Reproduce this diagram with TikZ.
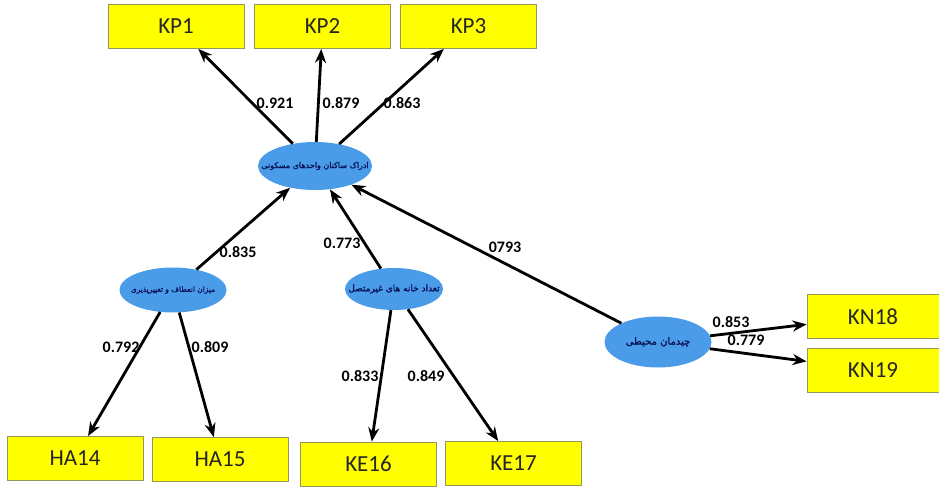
\documentclass[tikz,border=0pt]{standalone}
\usepackage{fontspec}
\setmainfont{Carlito}
\newfontfamily\farsifont[Script=Arabic,FakeBold=1.6]{DejaVu Sans}
\TeXXeTstate=1
\usetikzlibrary{shapes.geometric,arrows.meta}
\definecolor{boxyellow}{RGB}{255,255,0}
\definecolor{boxedge}{RGB}{150,150,90}
\definecolor{ovalblue}{RGB}{74,155,232}
\definecolor{ovaltext}{RGB}{10,20,90}
\newcommand\farsisize[1]{\farsifont\fontsize{#1}{#1}\selectfont}
\begin{document}
\begin{tikzpicture}[x=1pt,y=-1pt,
    item/.style={draw=boxedge, line width=0.8pt, fill=boxyellow, minimum height=44pt,
      inner sep=0pt, text=black!85, font=\fontsize{23}{25}\selectfont},
    factor/.style={ellipse, fill=ovalblue, inner sep=0pt},
    factortext/.style={inner sep=0pt, text=ovaltext},
    load/.style={-{Stealth[length=14pt,width=11pt]}, line width=2.8pt},
    coef/.style={inner sep=1pt, font=\bfseries\fontsize{16}{18}\selectfont}]
  % Frame of the picture
  \useasboundingbox (0,0) rectangle (939,487);

  % Indicator boxes
  \foreach \name/\x/\y/\w/\txt in {kp1/176/26.5/136/KP1, kp2/322.5/26.5/136/KP2,
      kp3/468.5/26.5/136/KP3, ha14/75/458.5/136/HA14, ha15/220/459.5/136/HA15,
      ke16/368.5/464/136/KE16, ke17/513.5/463.5/136/KE17,
      kn18/873/316.5/132/KN18, kn19/873/370/132/KN19} {
    \node[item, minimum width=\w pt] (\name) at (\x,\y) {\txt};
  }

  % Latent variables (label kept inside a fixed-size oval)
  \node[factor, minimum width=114pt, minimum height=48pt,
    label={[factortext, font=\farsisize{8}]center:\beginR ادراک ساکنان واحدهای مسکونی\endR}]
    (perception) at (315,166) {};
  \node[factor, minimum width=107pt, minimum height=45pt,
    label={[factortext, font=\farsisize{7.4}]center:\beginR میزان انعطاف و تغییرپذیری\endR}]
    (flexibility) at (173,290) {};
  \node[factor, minimum width=98pt, minimum height=42pt,
    label={[factortext, font=\farsisize{9}]center:\beginR تعداد خانه های غیرمتصل\endR}]
    (detached) at (394,289) {};
  \node[factor, minimum width=107pt, minimum height=51pt,
    label={[factortext, font=\farsisize{10}]center:\beginR چیدمان محیطی\endR}]
    (layout) at (658,342) {};

  % Paths
  \foreach \a/\b in {perception/kp1, perception/kp2, perception/kp3,
      flexibility/perception, detached/perception, layout/perception,
      flexibility/ha14, flexibility/ha15, detached/ke16, detached/ke17,
      layout/kn18, layout/kn19} {
    \draw[load] (\a) -- (\b);
  }

  % Loadings
  \foreach \val/\x/\y [count=\i] in {0.921/275/103, 0.879/341/103, 0.863/402/103,
      0.835/238/252, 0.773/342/243, 0793/505/247, 0.792/121/347, 0.809/210/347,
      0.833/360/376, 0.849/426/376, 0.853/731/322, 0.779/746/340} {
    \node[coef] (coef\i) at (\x,\y) {\val};
  }
\end{tikzpicture}
\end{document}
